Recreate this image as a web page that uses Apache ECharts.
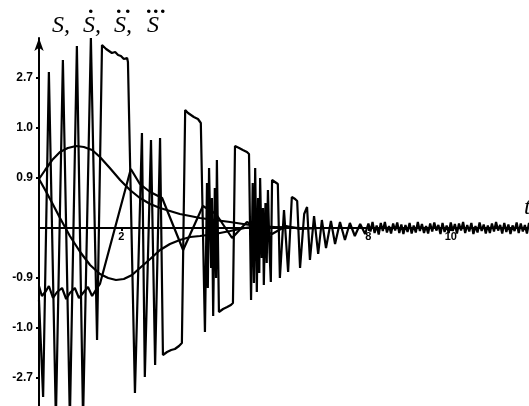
<!DOCTYPE html>
<html>
<head>
<meta charset="utf-8">
<script src="https://cdn.jsdelivr.net/npm/echarts@6/dist/echarts.min.js"></script>
<style>
  html, body { margin: 0; padding: 0; background: #fff; }
  #chart { width: 529px; height: 406px; }
</style>
</head>
<body>
<div id="chart"></div>
<script>
// Sliding-variable S and its derivatives versus time t (axis units).

// S(t)
const sPoints = [
  [0, 0.98], [0.15, 1.16], [0.32, 1.36], [0.51, 1.52], [0.70, 1.60], [0.90, 1.64],
  [1.09, 1.62], [1.29, 1.56], [1.48, 1.42], [1.72, 1.20], [1.97, 0.96], [2.21, 0.76],
  [2.45, 0.60], [2.70, 0.48], [2.94, 0.40], [3.18, 0.34], [3.42, 0.28], [3.67, 0.24],
  [3.91, 0.20], [4.27, 0.16], [4.64, 0.12], [5.12, 0.06], [5.61, 0.02], [6.34, 0],
  [11.9, 0]
];

// first derivative
const s1Points = [
  [0, 0.98], [0.15, 0.76], [0.32, 0.50], [0.51, 0.20], [0.75, -0.16], [1.00, -0.48],
  [1.24, -0.74], [1.48, -0.92], [1.68, -1.00], [1.87, -1.04], [2.06, -1.02], [2.26, -0.94],
  [2.45, -0.80], [2.70, -0.62], [2.94, -0.44], [3.18, -0.32], [3.42, -0.24], [3.67, -0.18],
  [3.91, -0.16], [4.27, -0.12], [4.64, -0.06], [5.00, 0], [5.32, 0.04], [5.73, 0.02],
  [6.34, 0], [11.9, 0]
];

// second derivative
const s2Points = [
  [0, -1.16], [0.07, -1.36], [0.17, -1.26], [0.24, -1.16], [0.34, -1.40], [0.44, -1.28],
  [0.56, -1.20], [0.66, -1.42], [0.75, -1.30], [0.87, -1.20], [0.97, -1.40], [1.09, -1.28],
  [1.19, -1.18], [1.29, -1.36], [1.38, -1.24], [1.48, -1.12], [2.23, 1.18], [2.45, 0.88],
  [2.70, 0.72], [2.99, 0.60], [3.50, -0.44], [3.98, 0.44], [4.30, 0.28], [4.69, -0.20],
  [5.05, 0.12], [5.37, -0.02], [5.66, -0.12], [6.00, 0.04], [6.34, -0.02], [6.82, 0],
  [11.9, 0]
];

// third derivative: chattering phase
const s3Points = [
  [0, -1.44], [0.10, -3.38], [0.24, 3.12], [0.41, -3.84], [0.58, 3.36], [0.75, -3.84],
  [0.92, 3.64], [1.07, -3.84], [1.26, 3.80], [1.41, -2.24], [1.53, 3.66], [1.63, 3.58],
  [1.70, 3.54], [1.77, 3.50], [1.85, 3.52], [1.92, 3.46], [1.99, 3.44], [2.06, 3.38],
  [2.14, 3.40], [2.16, 3.32], [2.33, -3.30], [2.50, 1.90], [2.57, -2.98], [2.72, 1.76],
  [2.82, -2.74], [2.94, 1.80], [3.01, -2.54], [3.11, -2.48], [3.21, -2.44], [3.30, -2.42],
  [3.40, -2.36], [3.47, -2.30], [3.55, 2.36], [3.62, 2.30], [3.69, 2.26], [3.76, 2.22],
  [3.86, 2.18], [3.93, 2.10], [4.03, -2.08], [4.08, 0.90], [4.10, -1.20], [4.13, 1.20],
  [4.18, -0.80], [4.20, 0.60], [4.23, -1.76], [4.27, 0.80], [4.30, -1.00], [4.32, 1.36],
  [4.37, -1.68], [4.47, -1.62], [4.57, -1.58], [4.66, -1.54], [4.71, -1.50], [4.76, 1.64],
  [4.86, 1.60], [4.95, 1.56], [5.05, 1.52], [5.10, 1.48], [5.15, -1.44], [5.19, 0.90],
  [5.22, -1.10], [5.25, 1.20], [5.29, -1.28], [5.32, 0.60], [5.35, -0.90], [5.37, 1.00],
  [5.41, -0.60], [5.44, 0.40], [5.46, -1.14], [5.50, 0.50], [5.53, -0.70], [5.56, 0.76],
  [5.60, -0.50], [5.63, -1.08], [5.66, 0.96],
  [5.73, 0.92], [5.80, 0.88], [5.85, -1.00], [5.95, 0.36], [6.05, -0.88], [6.14, 0.62],
  [6.22, 0.58], [6.27, 0.54], [6.34, -0.80], [6.44, 0.28], [6.51, 0.42], [6.58, -0.64],
  [6.68, 0.24], [6.78, -0.52], [6.87, 0.16], [6.97, -0.40], [7.09, 0.14], [7.19, -0.32],
  [7.31, 0.12], [7.43, -0.24], [7.55, 0.10], [7.67, -0.16], [7.80, 0.08], [7.92, -0.12]
];

// third derivative: residual chatter sampled every 0.05 from t = 8
const s3TailStart = 8.0;
const s3TailStep = 0.05;
const s3Tail = [
  0.09, -0.07, 0.12, -0.10, 0.05, -0.13, 0.10, -0.06, 0.12, -0.09,
  0.04, -0.11, 0.09, -0.05, 0.11, -0.10, 0.07, -0.12, 0.06, -0.08,
  0.10, -0.11, 0.05, -0.09, 0.12, -0.06, 0.08, -0.10, 0.04, -0.11,
  0.09, -0.07, 0.11, -0.05, 0.06, -0.12, 0.10, -0.08, 0.05, -0.10,
  0.11, -0.06, 0.08, -0.11, 0.09, -0.05, 0.12, -0.10, 0.06, -0.07,
  0.10, -0.12, 0.04, -0.09, 0.11, -0.06, 0.07, -0.11, 0.05, -0.10,
  0.09, -0.07, 0.12, -0.05, 0.06, -0.11, 0.10, -0.08, 0.07, -0.12,
  0.05, -0.06, 0.11, -0.10, 0.09, -0.07, 0.06, -0.11, 0.10, -0.05
];

// tick labels
const yTickValues = [-3, -2, -1, 1, 2, 3];
const yTickLabels = ['-2.7', '-1.0', '-0.9', '0.9', '1.0', '2.7'];
const xTickValues = [2, 8, 10];
const xTickLabels = ['2', '8', '10'];

const tMin = 0, tMax = 11.9;
const vMin = -3.6, vMax = 3.8;

const s3Data = s3Points.concat(
  s3Tail.map((v, i) => [+(s3TailStart + i * s3TailStep).toFixed(2), v])
);

const chart = echarts.init(document.getElementById('chart'), null, { renderer: 'canvas' });

const lineSeries = (data) => ({
  type: 'line',
  xAxisIndex: 0,
  yAxisIndex: 0,
  data: data,
  showSymbol: false,
  symbol: 'none',
  smooth: false,
  lineStyle: { color: '#000', width: 2.2 },
  emphasis: { disabled: true },
  z: 3
});

const labelFont = {
  color: '#000',
  fontFamily: 'Liberation Sans, Arial, sans-serif',
  fontWeight: 'bold',
  fontSize: 12
};

const titleFont = {
  fill: '#000',
  fontFamily: 'Liberation Serif, Times New Roman, serif',
  fontStyle: 'italic',
  fontSize: 24
};

const dotFont = {
  fill: '#000',
  fontFamily: 'Liberation Serif, Times New Roman, serif',
  fontWeight: 'bold',
  fontSize: 22
};

const dot = (x) => ({ type: 'text', left: x, top: -4, style: Object.assign({ text: '.' }, dotFont) });

// plot area (full height) and an upper band whose bottom edge is the t axis (v = 0)
const plotTop = 38, plotHeight = 370;
const zeroBand = Math.round(plotHeight * vMax / (vMax - vMin));

chart.setOption({
  animation: false,
  backgroundColor: '#fff',
  grid: [
    { left: 39, top: plotTop, width: 490, height: plotHeight, containLabel: false, outerBoundsMode: 'none' },
    { left: 39, top: plotTop, width: 490, height: zeroBand, containLabel: false, outerBoundsMode: 'none' }
  ],
  xAxis: [
    { gridIndex: 0, type: 'value', min: tMin, max: tMax, show: false },
    {
      gridIndex: 1,
      type: 'value',
      min: tMin,
      max: tMax,
      position: 'bottom',
      axisLine: { onZero: false, lineStyle: { color: '#000', width: 2 } },
      axisTick: { show: true, customValues: xTickValues, length: 3, lineStyle: { color: '#000', width: 2 } },
      axisLabel: Object.assign({
        customValues: xTickValues,
        margin: 3,
        hideOverlap: false,
        formatter: (v) => xTickLabels[xTickValues.indexOf(v)] || ''
      }, labelFont, { fontSize: 11 }),
      splitLine: { show: false }
    }
  ],
  yAxis: [
    {
      gridIndex: 0,
      type: 'value',
      min: vMin,
      max: vMax,
      axisLine: {
        onZero: false,
        symbol: ['none', 'arrow'],
        symbolSize: [7, 13],
        lineStyle: { color: '#000', width: 2 }
      },
      axisTick: { show: true, customValues: yTickValues, length: 3, lineStyle: { color: '#000', width: 2 } },
      axisLabel: Object.assign({
        customValues: yTickValues,
        margin: 6,
        hideOverlap: false,
        formatter: (v) => yTickLabels[yTickValues.indexOf(v)] || ''
      }, labelFont),
      splitLine: { show: false }
    },
    { gridIndex: 1, type: 'value', min: 0, max: vMax, show: false }
  ],
  series: [
    lineSeries(s3Data),
    lineSeries(s2Points),
    lineSeries(s1Points),
    lineSeries(sPoints)
  ],
  graphic: [
    { type: 'text', left: 52, top: 14, style: Object.assign({ text: 'S,' }, titleFont) },
    { type: 'text', left: 83, top: 14, style: Object.assign({ text: 'S,' }, titleFont) },
    { type: 'text', left: 114, top: 14, style: Object.assign({ text: 'S,' }, titleFont) },
    { type: 'text', left: 147, top: 14, style: Object.assign({ text: 'S' }, titleFont) },
    // derivative dots above the letters
    dot(88),
    dot(116), dot(125),
    dot(146), dot(153), dot(160),
    { type: 'text', left: 524, top: 196, style: Object.assign({ text: 't' }, titleFont) }
  ]
});
</script>
</body>
</html>
